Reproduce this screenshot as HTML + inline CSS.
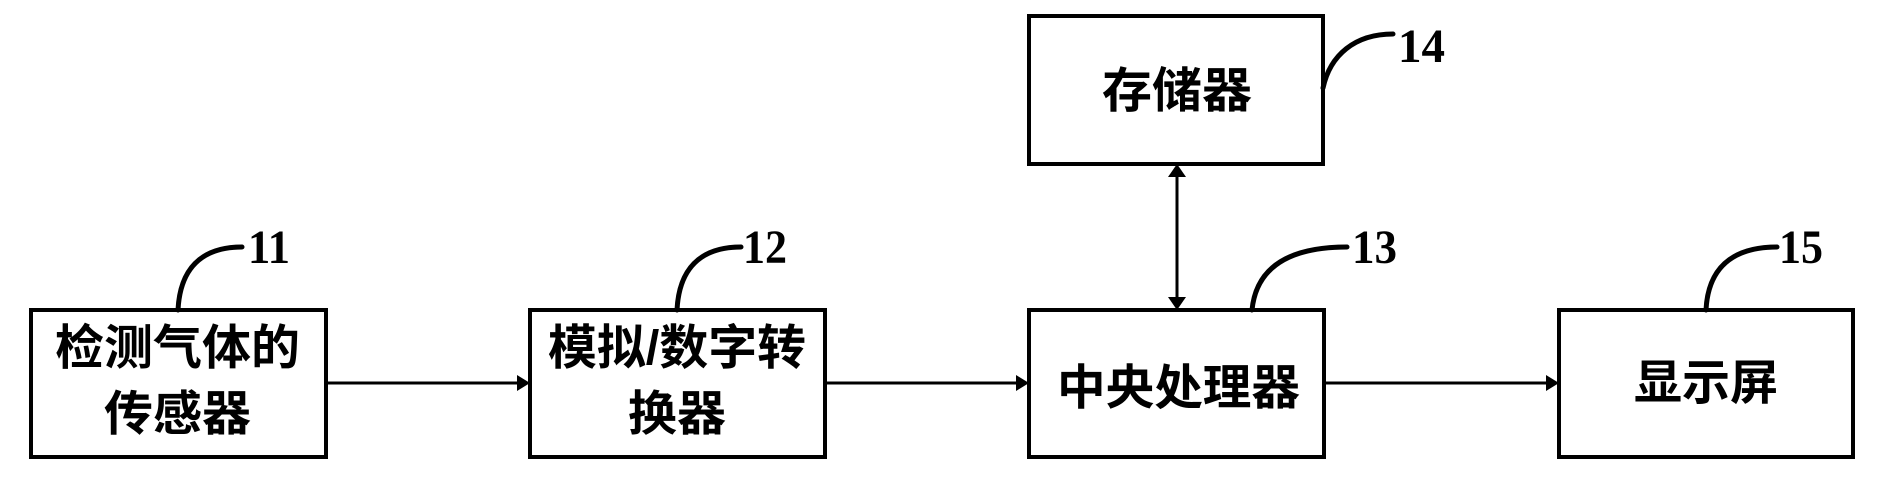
<!DOCTYPE html>
<html><head><meta charset="utf-8"><style>
html,body{margin:0;padding:0;background:#fff;}
svg{display:block;}
.t{font-family:"Liberation Sans","Noto Sans CJK SC",sans-serif;font-weight:bold;font-size:48px;fill:#000;}
.n{font-family:"Liberation Serif",serif;font-weight:bold;font-size:48px;fill:#000;}
</style></head><body>
<svg width="1878" height="478" viewBox="0 0 1878 478" xmlns="http://www.w3.org/2000/svg">
<g fill="none" stroke="#000" stroke-width="4">
<rect x="31" y="310" width="295" height="147"/>
<rect x="530" y="310" width="295" height="147"/>
<rect x="1029" y="310" width="295" height="147"/>
<rect x="1029" y="16" width="294" height="148"/>
<rect x="1559" y="310" width="294" height="147"/>
</g>
<g fill="none" stroke="#000" stroke-width="3">
<line x1="326" y1="383" x2="520" y2="383"/>
<line x1="825" y1="383" x2="1019" y2="383"/>
<line x1="1324" y1="383" x2="1549" y2="383"/>
<line x1="1177" y1="174" x2="1177" y2="300"/>
</g>
<g fill="#000">
<polygon points="530,383 517,375 517,391"/>
<polygon points="1029,383 1016,375 1016,391"/>
<polygon points="1559,383 1546,375 1546,391"/>
<polygon points="1177,164 1168,177 1186,177"/>
<polygon points="1177,310 1168,297 1186,297"/>
</g>
<g fill="none" stroke="#000" stroke-width="5" stroke-linecap="round">
<path d="M178,310 C180,270 200,247 242,247"/>
<path d="M677,310 C679,270 699,247 741,247"/>
<path d="M1252,310 C1256,270 1285,247 1347,247"/>
<path d="M1323,88 C1330,55 1355,34 1393,34"/>
<path d="M1706,310 C1708,270 1730,247 1777,247"/>
</g>
<text class="n" x="248" y="263" textLength="42" lengthAdjust="spacingAndGlyphs">11</text>
<text class="n" x="743" y="263" textLength="44" lengthAdjust="spacingAndGlyphs">12</text>
<text class="n" x="1352" y="263" textLength="45" lengthAdjust="spacingAndGlyphs">13</text>
<text class="n" x="1398" y="62" textLength="47" lengthAdjust="spacingAndGlyphs">14</text>
<text class="n" x="1779" y="263" textLength="44" lengthAdjust="spacingAndGlyphs">15</text>
<text class="t" x="55" y="364" textLength="245" lengthAdjust="spacingAndGlyphs">检测气体的</text>
<text class="t" x="104" y="430" textLength="147" lengthAdjust="spacingAndGlyphs">传感器</text>
<text class="t" x="548" y="364" textLength="258" lengthAdjust="spacingAndGlyphs">模拟/数字转</text>
<text class="t" x="628" y="430" textLength="98" lengthAdjust="spacingAndGlyphs">换器</text>
<text class="t" x="1057" y="404" textLength="243" lengthAdjust="spacingAndGlyphs">中央处理器</text>
<text class="t" x="1102" y="107" textLength="150" lengthAdjust="spacingAndGlyphs">存储器</text>
<text class="t" x="1634" y="399" textLength="144" lengthAdjust="spacingAndGlyphs">显示屏</text>
</svg>
</body></html>
